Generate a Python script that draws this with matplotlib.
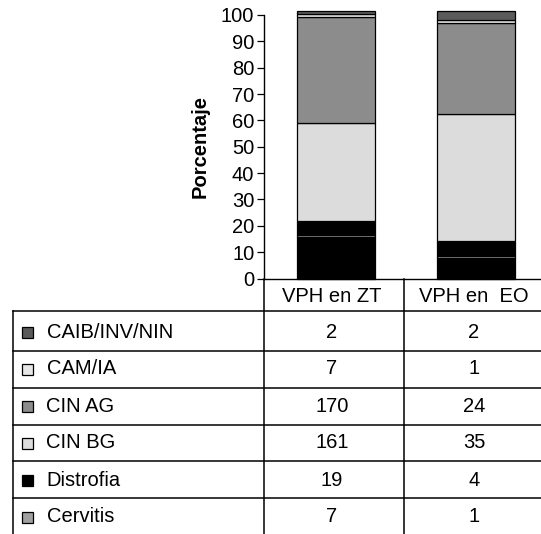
import numpy as np
import matplotlib
matplotlib.use("Agg")
import matplotlib.pyplot as plt
from matplotlib.patches import Rectangle

plt.rcParams['font.family'] = ['Liberation Sans', 'DejaVu Sans']

# categories (columns)
cats = ["VPH en ZT", "VPH en  EO"]

# table rows, top to bottom
row_labels = ["CAIB/INV/NIN", "CAM/IA", "CIN AG", "CIN BG", "Distrofia", "Cervitis"]
row_colors = ["#5a5a5a", "#e6e6e6", "#8c8c8c", "#dcdcdc", "#000000", "#a0a0a0"]
counts_zt = [2, 7, 170, 161, 19, 7]
counts_eo = [2, 1, 24, 35, 4, 1]

# bar segments bottom -> top, percent
seg_colors = ["#000000", "#a0a0a0", "#000000", "#dcdcdc", "#8c8c8c", "#e6e6e6", "#5a5a5a"]
seg_zt = [15.9, 0.7, 5.3, 37.0, 40.5, 1.0, 1.2]
seg_eo = [7.8, 0.7, 5.8, 48.2, 34.3, 1.3, 3.5]

W, H = 541, 534
fig = plt.figure(figsize=(W / 100, H / 100), dpi=100)

# bar axes placed in pixel units
x0, x1 = 264, 544
y0, y100 = 278.5, 15
ax = fig.add_axes([x0 / W, (H - y0) / H, (x1 - x0) / W, (y0 - y100) / H])

segs = np.array([seg_zt, seg_eo])
xpos = np.arange(len(cats)) + 0.015
bottom = np.zeros(len(cats))
for i in range(segs.shape[1]):
    ax.bar(xpos, segs[:, i], width=0.56, bottom=bottom, color=seg_colors[i],
           edgecolor="black", linewidth=0.9, clip_on=False, zorder=3)
    bottom += segs[:, i]

ax.set_xlim(-0.5, 1.5)
ax.set_ylim(0, 100)
ax.set_yticks(np.arange(0, 101, 10))
ax.tick_params(axis='y', labelsize=14.5, length=5, width=0.9, pad=2, direction='out')
ax.tick_params(axis='x', length=0, labelbottom=False)
ax.spines['top'].set_visible(False)
ax.spines['right'].set_visible(False)
ax.spines['left'].set_linewidth(1.0)
ax.spines['bottom'].set_linewidth(1.0)
ax.set_ylabel("Porcentaje", fontsize=14.5, fontweight='bold', labelpad=8)
ax.patch.set_alpha(0)

# table drawn in pixel coordinates
tab = fig.add_axes([0, 0, 1, 1])
tab.set_xlim(0, W)
tab.set_ylim(H, 0)
tab.axis('off')

left = 13
col_lines = [264, 404]
col_centers = [332, 474]
row_lines = [311, 351, 388, 425, 461, 498]
row_centers = [332, 369, 406, 443, 480, 517]

for x in col_lines:
    tab.plot([x, x], [y0, H], color="black", lw=1.1)
tab.plot([left, left], [row_lines[0], H], color="black", lw=1.1)
for y in row_lines:
    tab.plot([left, W], [y, y], color="black", lw=1.1)

for c, x in zip(cats, col_centers):
    tab.text(x, 296, c, ha='center', va='center', fontsize=14.5)

for lab, col, yc, a, b in zip(row_labels, row_colors, row_centers, counts_zt, counts_eo):
    tab.add_patch(Rectangle((22, yc - 5.5), 11, 11, facecolor=col, edgecolor="black", lw=0.9))
    tab.text(46.5, yc, lab, ha='left', va='center', fontsize=14.5)
    tab.text(col_centers[0], yc, str(a), ha='center', va='center', fontsize=14.5)
    tab.text(col_centers[1], yc, str(b), ha='center', va='center', fontsize=14.5)

fig.savefig("out.png", dpi=100)
